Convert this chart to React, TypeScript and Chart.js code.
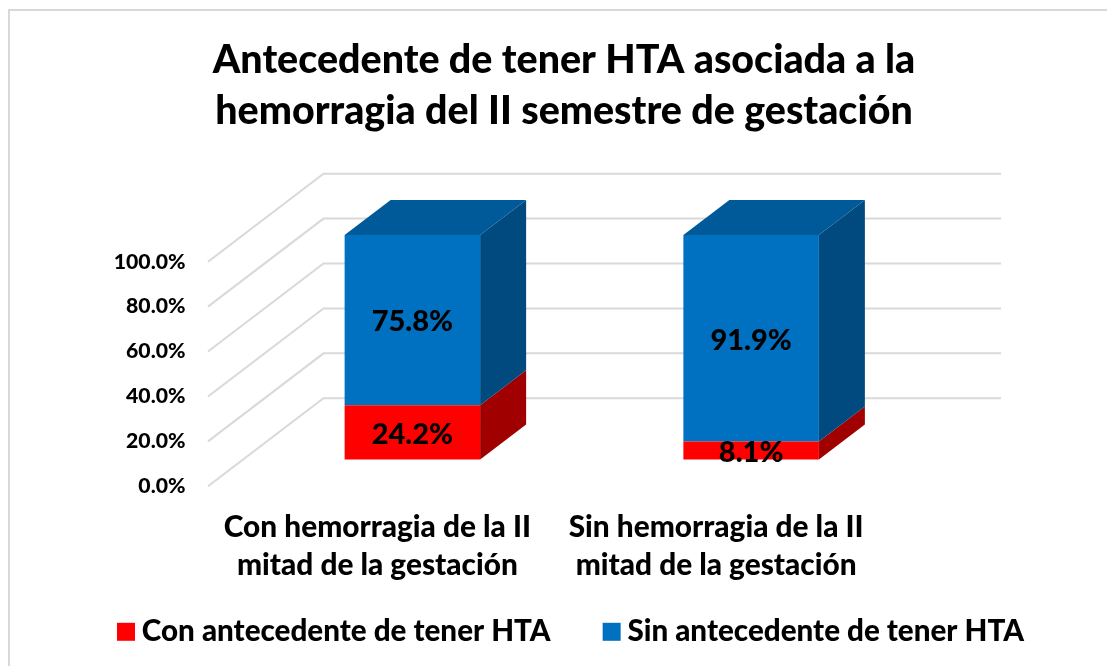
import React, { useEffect, useRef } from "react";
import { Chart, registerables } from "chart.js";

Chart.register(...registerables);

const titleLines = ["Antecedente de tener HTA asociada a la", "hemorragia del II semestre de gestación"];
const categories = [
  ["Con hemorragia de la II", "mitad de la gestación"],
  ["Sin hemorragia de la II", "mitad de la gestación"],
];
const seriesNames = ["Con antecedente de tener HTA", "Sin antecedente de tener HTA"];
const conHTA = [24.2, 8.1];
const sinHTA = [75.8, 91.9];

const FONT = "Lato, Carlito, sans-serif";
const WEIGHT = "900";
const FLOOR_DX = 115.5;
const FLOOR_DY = -88;
const SHIFT_X = 35;
const SHIFT_Y = -26.7;
const BAR_DX = 46;
const BAR_DY = -35;
const FRONT = ["#FF0000", "#0070C0"];
const SIDE = ["#A00000", "#004A7F"];
const TOP = ["#C00000", "#005A9A"];

const threeD = {
  id: "threeD",
  afterLayout(chart: any) {
    const t = chart.titleBlock;
    t.left = 21;
    t.right = 1107;
    const l = chart.legend;
    l.left = 65;
    l.right = 1400;
    l.top = 557;
  },
  beforeDraw(chart: any) {
    const { ctx } = chart;
    ctx.save();
    ctx.fillStyle = "#fff";
    ctx.fillRect(0, 0, chart.width, chart.height);
    ctx.strokeStyle = "#D9D9D9";
    ctx.lineWidth = 2;
    ctx.strokeRect(9, 10, 1200, 800);
    ctx.restore();
  },
  beforeDatasetsDraw(chart: any) {
    const { ctx, chartArea, scales } = chart;
    ctx.save();
    ctx.strokeStyle = "#D9D9D9";
    ctx.lineWidth = 2;
    for (const tick of scales.y.ticks) {
      const y = scales.y.getPixelForValue(tick.value);
      ctx.beginPath();
      ctx.moveTo(chartArea.left, y);
      ctx.lineTo(chartArea.left + FLOOR_DX, y + FLOOR_DY);
      ctx.lineTo(chartArea.right + FLOOR_DX, y + FLOOR_DY);
      ctx.stroke();
    }
    ctx.restore();
    ctx.save();
    ctx.translate(SHIFT_X, SHIFT_Y);
  },
  afterDatasetsDraw(chart: any) {
    const { ctx } = chart;
    chart.data.datasets.forEach((ds: any, di: number) => {
      chart.getDatasetMeta(di).data.forEach((bar: any, i: number) => {
        const p = bar.getProps(["x", "y", "base", "width"], true);
        const l = p.x - p.width / 2;
        const r = p.x + p.width / 2;
        ctx.fillStyle = SIDE[di];
        ctx.beginPath();
        ctx.moveTo(r, p.base);
        ctx.lineTo(r + BAR_DX, p.base + BAR_DY);
        ctx.lineTo(r + BAR_DX, p.y + BAR_DY);
        ctx.lineTo(r, p.y);
        ctx.closePath();
        ctx.fill();
        if (di === chart.data.datasets.length - 1) {
          ctx.fillStyle = TOP[di];
          ctx.beginPath();
          ctx.moveTo(l, p.y);
          ctx.lineTo(l + BAR_DX, p.y + BAR_DY);
          ctx.lineTo(r + BAR_DX, p.y + BAR_DY);
          ctx.lineTo(r, p.y);
          ctx.closePath();
          ctx.fill();
        }
        ctx.fillStyle = "#000";
        ctx.font = `${WEIGHT} 29px ${FONT}`;
        ctx.textAlign = "center";
        ctx.textBaseline = "middle";
        ctx.fillText(ds.data[i].toFixed(1) + "%", p.x, (p.y + p.base) / 2 + 2);
      });
    });
    ctx.restore();
  },
};

export default function App() {
  const ref = useRef<HTMLCanvasElement>(null);
  useEffect(() => {
    const chart = new Chart(ref.current as HTMLCanvasElement, {
      type: "bar",
      data: {
        labels: categories as any,
        datasets: [
          { label: seriesNames[0], data: conHTA, backgroundColor: FRONT[0], clip: false as any },
          { label: seriesNames[1], data: sinHTA, backgroundColor: FRONT[1], clip: false as any },
        ],
      },
      options: {
        animation: false,
        responsive: false,
        layout: { padding: { bottom: -24.88 } },
        datasets: { bar: { categoryPercentage: 1, barPercentage: 0.4 } },
        scales: {
          x: {
            stacked: true,
            grid: { display: false },
            border: { display: false },
            afterFit: (s: any) => { s.height = 105; },
            ticks: {
              autoSkip: false,
              maxRotation: 0,
              padding: 14,
              color: "#000",
              font: { family: FONT, weight: WEIGHT, size: 29.8, lineHeight: 38 / 29.8 },
            },
          },
          y: {
            stacked: true,
            min: 0,
            max: 100,
            grid: { display: false },
            border: { display: false },
            afterFit: (s: any) => { s.width = 208; },
            ticks: {
              stepSize: 20,
              padding: 14.5,
              color: "#000",
              font: { family: FONT, weight: WEIGHT, size: 21.2 },
              callback: (v: any) => Number(v).toFixed(1) + "%",
            },
          },
          yRight: {
            position: "right",
            grid: { display: false },
            border: { display: false },
            ticks: { display: false },
            afterFit: (s: any) => { s.width = 221.5; },
          },
        },
        plugins: {
          title: {
            display: true,
            text: titleLines,
            color: "#000",
            font: { family: FONT, weight: WEIGHT, size: 39.4, lineHeight: 51 / 39.4 },
            padding: { top: 34.5, bottom: 125.2 },
          },
          legend: {
            position: "bottom",
            align: "start",
            labels: {
              boxWidth: 2,
              boxHeight: 2,
              padding: 60,
              color: "#000",
              font: { family: FONT, weight: WEIGHT, size: 29.6 },
              generateLabels: (chart: any) =>
                Chart.defaults.plugins.legend.labels.generateLabels(chart).map((item: any) => ({
                  ...item,
                  lineWidth: 16,
                  strokeStyle: item.fillStyle,
                })),
            },
          },
          tooltip: { enabled: false },
        },
      } as any,
      plugins: [threeD],
    });
    return () => chart.destroy();
  }, []);
  return (
    <canvas
      ref={ref}
      width={1107}
      height={666}
      style={{ position: "absolute", left: 0, top: 0, display: "block", width: 1107, height: 666 }}
    />
  );
}
